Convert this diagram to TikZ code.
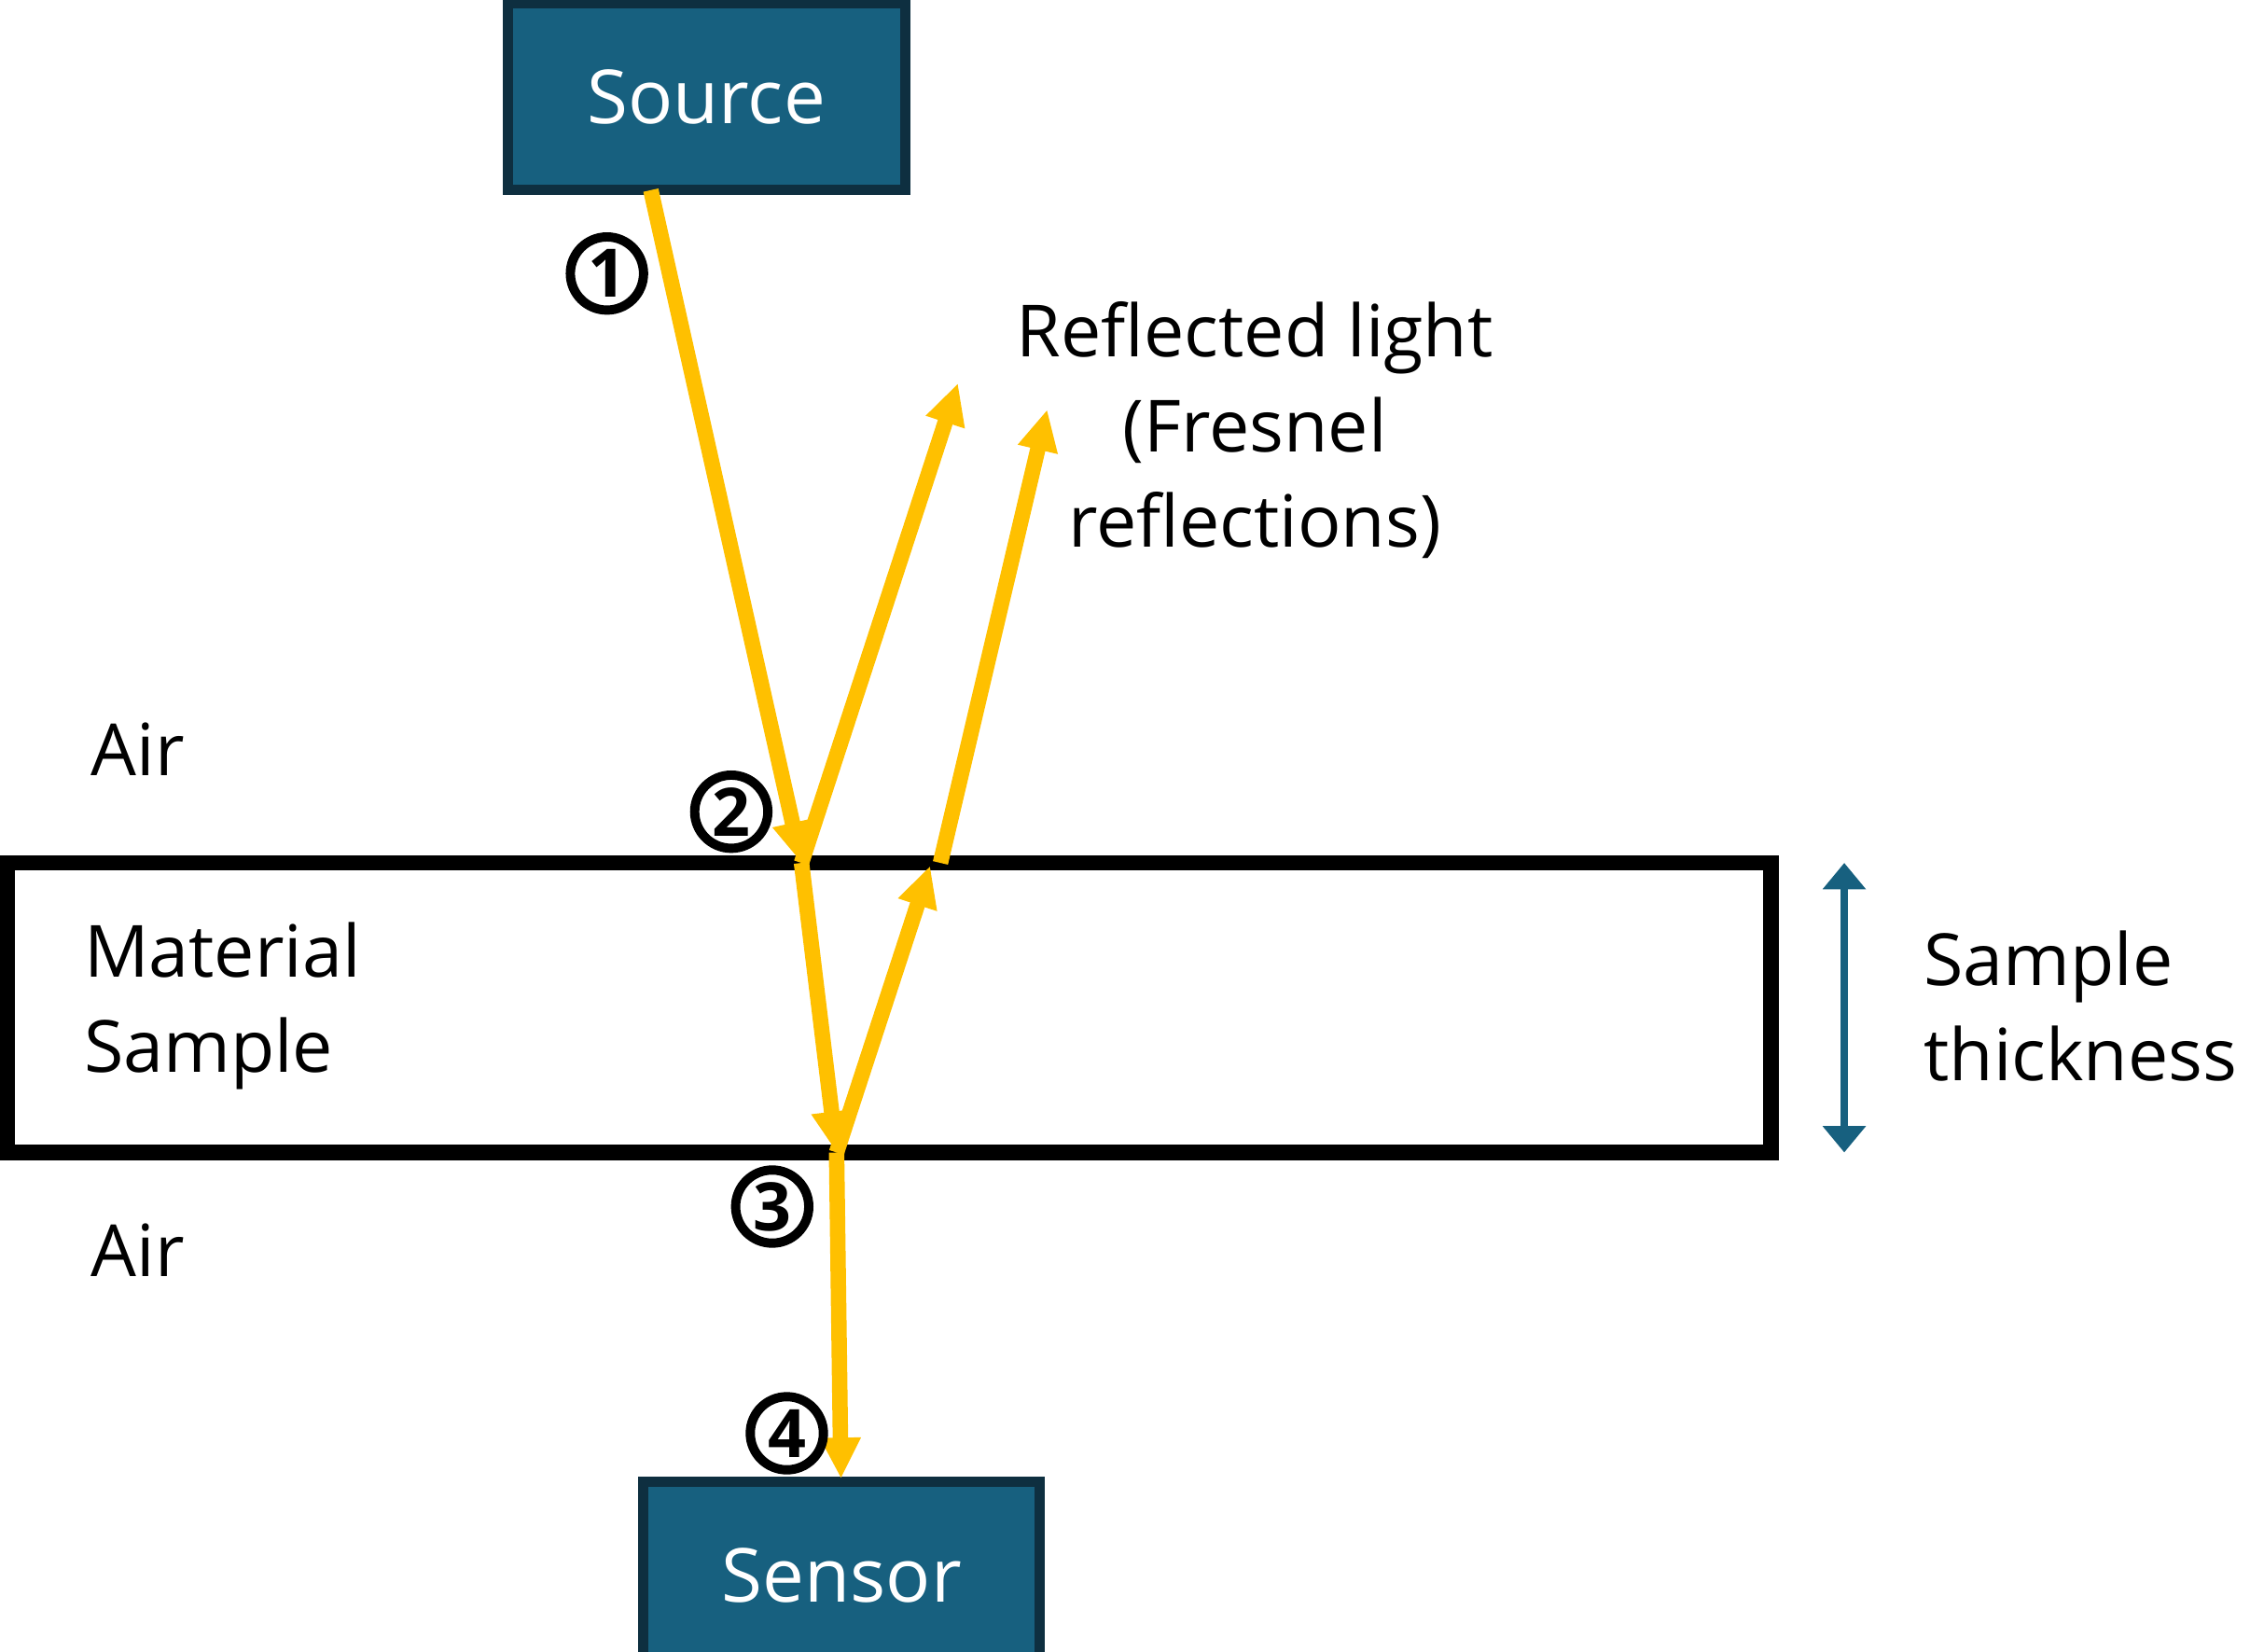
\documentclass[tikz,border=0pt]{standalone}
\usepackage{fontspec}
\setmainfont{Open Sans}
\usetikzlibrary{arrows.meta}
\definecolor{boxblue}{HTML}{17607F}
\definecolor{boxline}{HTML}{0E2F40}
\definecolor{ray}{HTML}{FFC000}
\tikzset{
  unit/.style={draw=boxline, line width=2pt, fill=boxblue, text=white, font=\fontsize{14.5}{18}\selectfont},
  lbl/.style={font=\fontsize{14}{18.5}\selectfont, align=left, anchor=west},
  num/.style={circle, draw, line width=1.8pt, inner sep=0pt, minimum size=0.5cm, font=\bfseries\fontsize{13}{15}\selectfont},
  beam/.style={ray, line width=3pt, -{Triangle[length=0.28cm, width=0.26cm]}},
}
\begin{document}
\begin{tikzpicture}[x=0.01cm, y=-0.01cm]
	\useasboundingbox (0,0) rectangle (1548,1129);
	% boxes
	\draw [unit] (347,2) rectangle (619,130) node [midway] (src) {Source};
	\draw [unit] (440,1013) rectangle (711,1142) node [midway] (sen) {Sensor};
	\draw [line width=3pt] (5,590) rectangle (1211,788);
	% labels
	\node [lbl] (air1) at (50,512) {Air};
	\node [lbl] (air2) at (50,855) {Air};
	\node [lbl] (mat) at (45,688) {Material\\Sample};
	\node [lbl] (thick) at (1303,688) {Sample\\thickness};
	\node [font=\fontsize{14}{18.5}\selectfont, align=center] (refl) at (858,294) {Reflected light\\(Fresnel\\reflections)};
	\coordinate (t) at (1261,590);
	\coordinate (b) at (1261,788);
	\draw [boxblue, line width=1.5pt, {Triangle[length=0.18cm]}-{Triangle[length=0.18cm]}] (t) -- (b);
	% rays
	\coordinate (s) at (445,130);
	\coordinate (p) at (548,590);
	\coordinate (q) at (572,788);
	\coordinate (r) at (643,590);
	\draw [beam] (s) -- (p);
	\draw [beam] (p) -- (655,262);
	\draw [beam] (p) -- (q);
	\draw [beam] (q) -- (636,592);
	\draw [beam] (r) -- (716,280);
	\draw [beam] (q) -- (575,1011);
	% steps
	\node [num] (n1) at (415,187) {1};
	\node [num] (n2) at (500,555) {2};
	\node [num] (n3) at (528,825) {3};
	\node [num] (n4) at (538,980) {4};
\end{tikzpicture}
\end{document}
